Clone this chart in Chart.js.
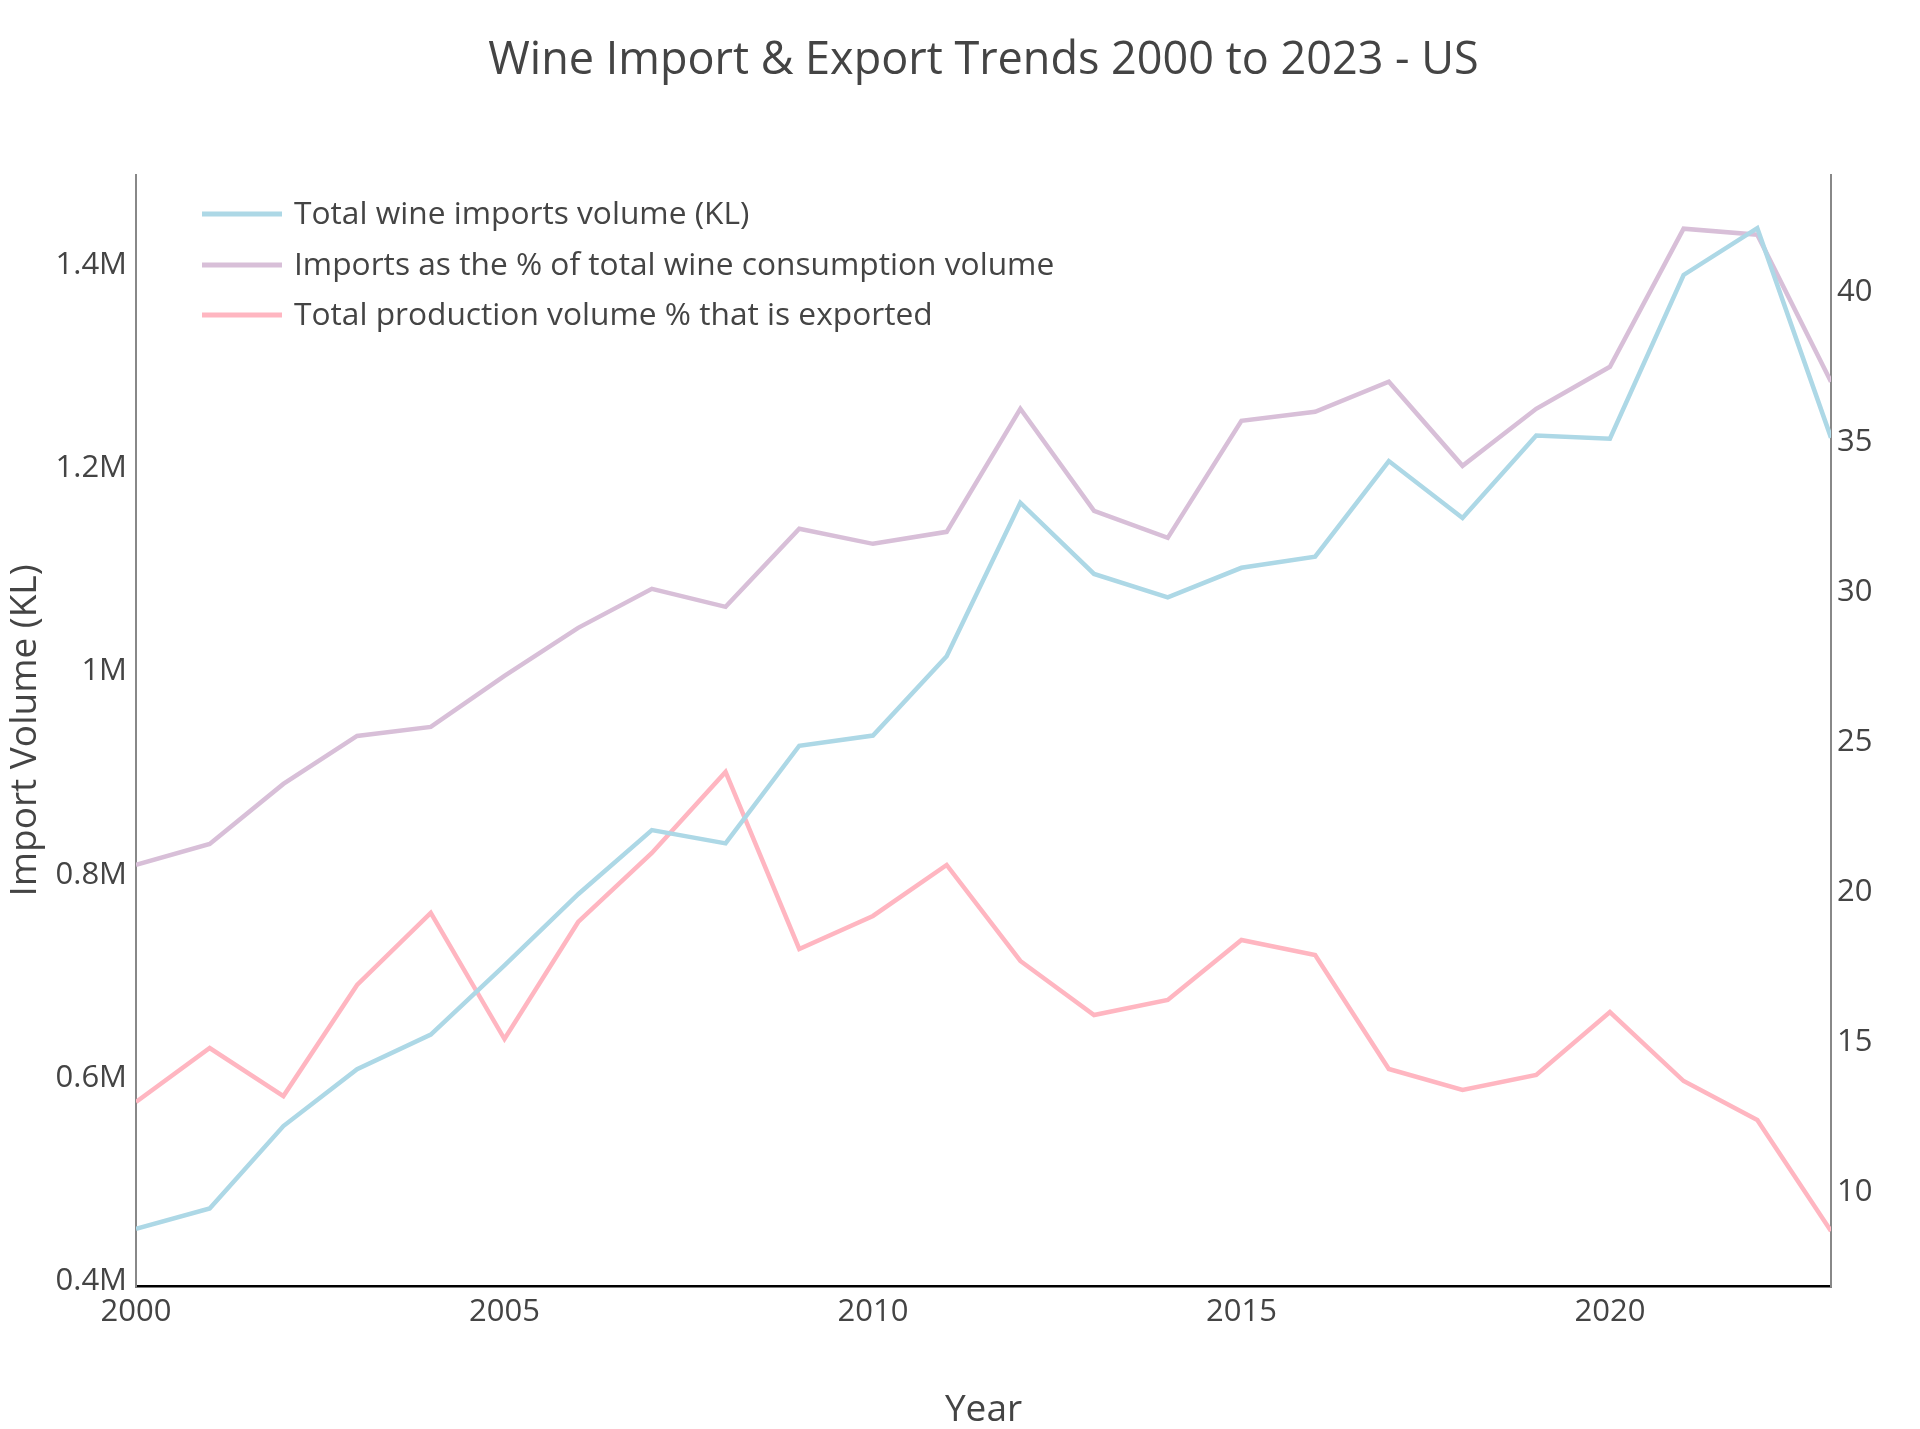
<!DOCTYPE html>
<html>
<head>
<meta charset="utf-8">
<script src="https://cdn.jsdelivr.net/npm/chart.js@4/dist/chart.umd.min.js"></script>
<style>
  html, body { margin: 0; padding: 0; background: #fff; }
  #wrap { width: 1920px; height: 1429px; position: relative; }
</style>
</head>
<body>
<div id="wrap"><canvas id="c" width="1920" height="1429"></canvas></div>
<script>
const years = [2000,2001,2002,2003,2004,2005,2006,2007,2008,2009,2010,2011,2012,2013,2014,2015,2016,2017,2018,2019,2020,2021,2022,2023];
const importVolumeKL = [452000,472000,553000,609000,643000,711000,781000,844000,831000,927000,937000,1015000,1166000,1096000,1073000,1102000,1113000,1207000,1151000,1232000,1229000,1390000,1436000,1230000];
const importsPctConsumption = [20.9,21.6,23.6,25.2,25.5,27.2,28.8,30.1,29.5,32.1,31.6,32.0,36.1,32.7,31.8,35.7,36.0,37.0,34.2,36.1,37.5,42.1,41.9,37.0];
const exportPctProduction = [13.0,14.8,13.2,16.9,19.3,15.1,19.0,21.3,24.0,18.1,19.2,20.9,17.7,15.9,16.4,18.4,17.9,14.1,13.4,13.9,16.0,13.7,12.4,8.7];
const seriesNames = ["Total wine imports volume (KL)", "Imports as the % of total wine consumption volume", "Total production volume % that is exported"];
const leftTickValues = [400000, 600000, 800000, 1000000, 1200000, 1400000];
const rightTickValues = [10, 15, 20, 25, 30, 35, 40];
const xTickValues = [2000, 2005, 2010, 2015, 2020];
const titleText = "Wine Import & Export Trends 2000 to 2023 - US";
const xTitle = "Year";
const yTitle = "Import Volume (KL)";

const FONT = "'Open Sans', 'Noto Sans', sans-serif";
const TXT = "#444444";
const colors = ["#ADD8E6", "#D8BFD8", "#FFB6C1"];

const toPts = arr => arr.map((v, i) => ({x: years[i], y: v}));
const setTicks = vals => s => { s.ticks = vals.map(v => ({value: v})); };

const overlay = {
  id: 'overlay',
  afterDraw(chart) {
    const ctx = chart.ctx;
    const ca = chart.chartArea;
    ctx.save();
    ctx.fillStyle = TXT;
    ctx.font = "45px " + FONT;
    ctx.textAlign = "center";
    ctx.textBaseline = "middle";
    ctx.fillText(titleText, (ca.left + ca.right) / 2, 61);
    // legend
    ctx.font = "31.7px " + FONT;
    ctx.textAlign = "left";
    const rows = [214, 265, 315];
    chart.data.datasets.forEach((ds, i) => {
      ctx.strokeStyle = ds.borderColor;
      ctx.lineWidth = 5;
      ctx.beginPath();
      ctx.moveTo(202, rows[i]);
      ctx.lineTo(282, rows[i]);
      ctx.stroke();
      ctx.fillStyle = TXT;
      ctx.fillText(ds.label, 294, rows[i] + 1);
    });
    ctx.restore();
  }
};

new Chart(document.getElementById('c'), {
  type: 'line',
  data: {
    datasets: [
      { label: seriesNames[0], data: toPts(importVolumeKL), yAxisID: 'y', borderColor: colors[0], backgroundColor: colors[0], borderWidth: 4.5, pointRadius: 0, tension: 0 },
      { label: seriesNames[1], data: toPts(importsPctConsumption), yAxisID: 'y2', borderColor: colors[1], backgroundColor: colors[1], borderWidth: 4.5, pointRadius: 0, tension: 0 },
      { label: seriesNames[2], data: toPts(exportPctProduction), yAxisID: 'y2', borderColor: colors[2], backgroundColor: colors[2], borderWidth: 4.5, pointRadius: 0, tension: 0 }
    ]
  },
  options: {
    responsive: false,
    animation: false,
    devicePixelRatio: 1,
    layout: { padding: { top: 175, left: 0, right: 0, bottom: 0 } },
    plugins: { legend: { display: false }, title: { display: false }, tooltip: { enabled: false } },
    scales: {
      x: {
        type: 'linear', min: 2000, max: 2023,
        grid: { display: false, drawTicks: false },
        border: { display: true, color: '#000000', width: 2.5 },
        afterBuildTicks: setTicks(xTickValues),
        ticks: { padding: 8, autoSkip: false, maxRotation: 0, color: TXT, font: { family: FONT, size: 31 }, callback: v => String(v) },
        title: { display: true, text: xTitle, color: TXT, font: { family: FONT, size: 37, lineHeight: 1 }, padding: { top: 0, bottom: 0 } },
        afterFit: s => { s.height = 143; }
      },
      y: {
        type: 'linear', position: 'left', min: 395700, max: 1488300,
        grid: { display: false, drawTicks: false },
        border: { display: true, color: '#888888', width: 2 },
        afterBuildTicks: setTicks(leftTickValues),
        ticks: { padding: 9, autoSkip: false, color: TXT, font: { family: FONT, size: 31 },
          callback: v => (Math.round(v / 1e5) / 10) + 'M' },
        title: { display: true, text: yTitle, color: TXT, font: { family: FONT, size: 37, lineHeight: 1 }, padding: { top: 7, bottom: 0 } },
        afterFit: s => { s.width = 136; }
      },
      y2: {
        type: 'linear', position: 'right', min: 6.87, max: 43.89,
        grid: { display: false, drawTicks: false },
        border: { display: true, color: '#888888', width: 2 },
        afterBuildTicks: setTicks(rightTickValues),
        ticks: { padding: 6, autoSkip: false, color: TXT, font: { family: FONT, size: 31 } },
        afterFit: s => { s.width = 89; }
      }
    }
  },
  plugins: [overlay]
});
</script>
</body>
</html>
